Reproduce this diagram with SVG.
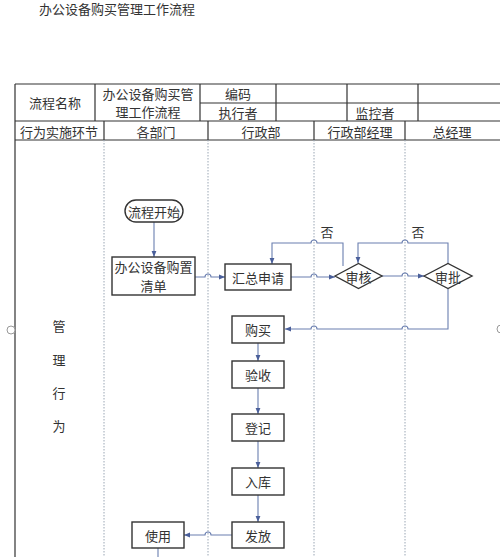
<svg xmlns="http://www.w3.org/2000/svg" width="500" height="557" viewBox="0 0 500 557">
<defs>
<style>
text{font-family:"Noto Sans CJK SC","Liberation Sans",sans-serif;font-size:13px;fill:#333;text-anchor:middle;dominant-baseline:central}
.tb{stroke:#333;stroke-width:1.2;fill:none}
.lane{stroke:#9aa6b4;stroke-width:1;stroke-dasharray:1.5 1.5;fill:none}
.box{fill:#fff;stroke:#333;stroke-width:1.4}
.con{stroke:#6a7fb0;stroke-width:1.1;fill:none}
.arr{stroke:#6a7fb0;stroke-width:1.1;fill:none;marker-end:url(#ah)}
</style>
<marker id="ah" viewBox="0 0 10 10" refX="10" refY="5" markerWidth="6" markerHeight="6" markerUnits="userSpaceOnUse" orient="auto">
<path d="M0,1 L10,5 L0,9 z" fill="#4a5f9a"/>
</marker>
</defs>
<rect width="500" height="557" fill="#fff"/>
<text x="117" y="8" style="font-size:13px">办公设备购买管理工作流程</text>
<g id="table">
<path class="tb" d="M15,84 H500 M200,103 H500 M15,121 H500 M15,140 H500 M15,84 V557 M95,84 V121 M200,84 V121 M276,84 V121 M347,84 V121 M418,84 V121 M104,121 V140 M208,121 V140 M314,121 V140 M405,121 V140"/>
<text x="55" y="102">流程名称</text>
<text x="148" y="93">办公设备购买管</text>
<text x="148" y="111">理工作流程</text>
<text x="238" y="93">编码</text>
<text x="238" y="112">执行者</text>
<text x="375" y="112">监控者</text>
<text x="59" y="131">行为实施环节</text>
<text x="156" y="131">各部门</text>
<text x="261" y="131">行政部</text>
<text x="360" y="131">行政部经理</text>
<text x="452" y="131">总经理</text>
<path class="lane" d="M104,140 V557 M208,140 V557 M314,140 V557 M405,140 V557"/>
<circle cx="11" cy="330" r="4" fill="#fff" stroke="#999" stroke-width="1"/>
<circle cx="501" cy="329" r="4" fill="#fff" stroke="#999" stroke-width="1"/>
<text x="59" y="325">管</text>
<text x="59" y="359">理</text>
<text x="59" y="392">行</text>
<text x="59" y="425">为</text>
<text x="327" y="231">否</text>
<text x="418" y="231">否</text>
</g>
<g id="connectors">
<path class="arr" d="M154,222 V257"/>
<path class="arr" d="M195,277 H205 A3,3 0 0 1 211,277 H225"/>
<path class="arr" d="M291,277 H311 A3,3 0 0 1 317,277 H335"/>
<path class="arr" d="M382,276 H402 A3,3 0 0 1 408,276 H424"/>
<path class="arr" d="M343,266 V243 H317 A3,3 0 0 0 311,243 H272 V264"/>
<path class="arr" d="M448,264 V243 H408 A3,3 0 0 0 402,243 H358 V263"/>
<path class="arr" d="M448,289 V329 H408 A3,3 0 0 0 402,329 H317 A3,3 0 0 0 311,329 H285"/>
<path class="arr" d="M258,343 V361"/>
<path class="arr" d="M258,388 V414"/>
<path class="arr" d="M258,441 V468"/>
<path class="arr" d="M258,495 V522"/>
<path class="arr" d="M232,535 H211 A3,3 0 0 0 205,535 H184"/>
<path class="con" d="M158,548 V557"/>
</g>
<g id="start"><rect class="box" x="125" y="200" width="58" height="22" rx="11"/><text x="154" y="211">流程开始</text></g>
<g id="list"><rect class="box" x="112" y="257" width="83" height="38"/><text x="153.5" y="266.5">办公设备购置</text><text x="153.5" y="285.5">清单</text></g>
<g id="summary"><rect class="box" x="225" y="264" width="66" height="26"/><text x="258" y="277">汇总申请</text></g>
<g id="review"><path class="box" d="M335,276 L358.5,263.5 L382,276 L358.5,288.5 z"/><text x="358.5" y="276">审核</text></g>
<g id="approve"><path class="box" d="M424,276 L448,263.5 L472,276 L448,288.5 z"/><text x="448" y="276">审批</text></g>
<g id="buy"><rect class="box" x="232" y="316" width="52" height="27"/><text x="258" y="329.5">购买</text></g>
<g id="check"><rect class="box" x="232" y="361" width="52" height="27"/><text x="258" y="374.5">验收</text></g>
<g id="register"><rect class="box" x="232" y="414" width="52" height="27"/><text x="258" y="427.5">登记</text></g>
<g id="store"><rect class="box" x="232" y="468" width="52" height="27"/><text x="258" y="481.5">入库</text></g>
<g id="issue"><rect class="box" x="232" y="522" width="52" height="26"/><text x="258" y="535">发放</text></g>
<g id="use"><rect class="box" x="132" y="522" width="52" height="26"/><text x="158" y="535">使用</text></g>
</svg>
